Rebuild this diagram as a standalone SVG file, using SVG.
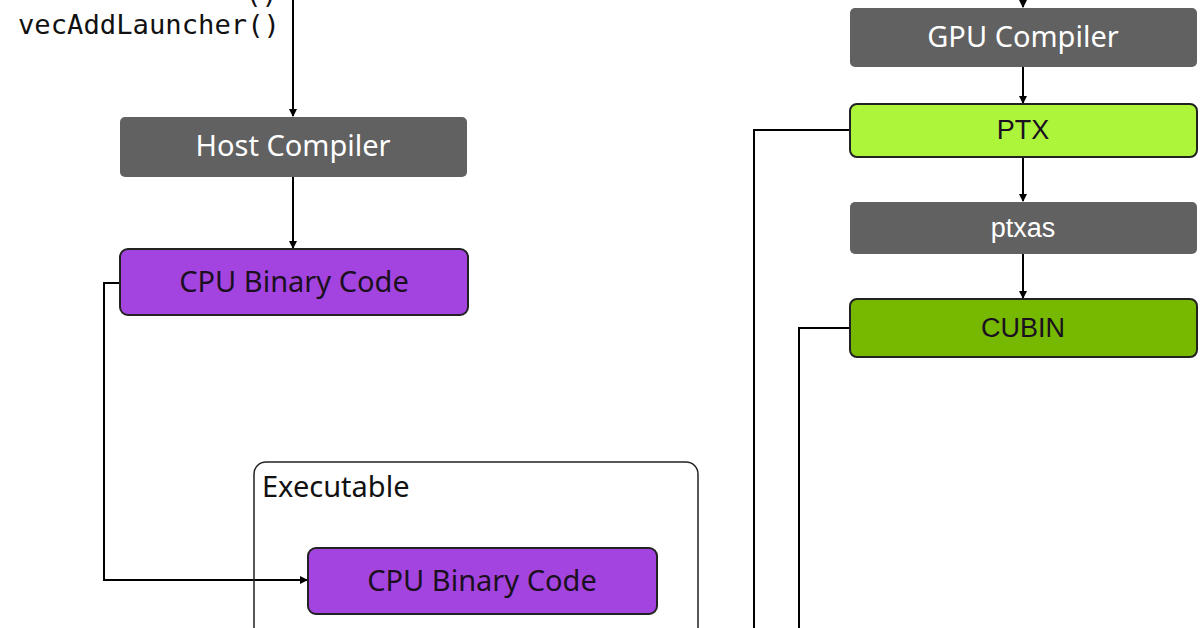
<svg xmlns="http://www.w3.org/2000/svg" width="1200" height="628" viewBox="0 0 1200 628">
<style>
.n{font-family:"Noto Sans","Liberation Sans",sans-serif;font-size:29px;text-anchor:middle}
.a{font-family:"Liberation Sans",Arial,sans-serif;font-size:27px}
.w{fill:#ffffff}
.d{fill:#1a1020}
.gray{fill:#616161}
.cpu{fill:#a444e0;stroke:#222;stroke-width:2}
.ptx{fill:#adf53b;stroke:#222;stroke-width:2}
.cub{fill:#76b900;stroke:#222;stroke-width:2}
.c{fill:none;stroke:#000;stroke-width:2}
.m{font-family:"DejaVu Sans Mono",monospace;font-size:27.2px;fill:#111}
</style>
<defs>
<marker id="a" markerWidth="8" markerHeight="8" refX="7" refY="4" orient="auto" markerUnits="userSpaceOnUse">
<path d="M0,0 L8,4 L0,8 z" fill="#000"/>
</marker>
</defs>
<rect width="1200" height="628" fill="#fff"/>
<text class="m" x="278" y="3" text-anchor="end">()</text>
<text class="m" x="18" y="34">vecAddLauncher()</text>
<g id="connectors">
<path class="c" d="M293,0 V116" marker-end="url(#a)"/>
<path class="c" d="M293,177 V248" marker-end="url(#a)"/>
<path class="c" d="M120,283 H104 V580 H307" marker-end="url(#a)"/>
<path class="c" d="M1023,-2 V7" marker-end="url(#a)"/>
<path class="c" d="M1023,67 V103" marker-end="url(#a)"/>
<path class="c" d="M1023,157 V201" marker-end="url(#a)"/>
<path class="c" d="M1023,254 V298" marker-end="url(#a)"/>
<path class="c" d="M850,130 H754 V630"/>
<path class="c" d="M850,328 H799 V630"/>
</g>
<g id="executable">
<rect x="254" y="462" width="444" height="190" rx="12" fill="none" stroke="#222" stroke-width="1.5"/>
<text x="262" y="497" style="font-family:'Noto Sans','Liberation Sans',sans-serif;font-size:29px;fill:#111">Executable</text>
</g>
<g id="host-compiler"><rect class="gray" x="120" y="117" width="347" height="60" rx="5"/><text class="n w" x="293" y="156">Host Compiler</text></g>
<g id="cpu-binary-1"><rect class="cpu" x="120" y="249" width="348" height="66" rx="8"/><text class="n d" x="294" y="292">CPU Binary Code</text></g>
<g id="cpu-binary-2"><rect class="cpu" x="308" y="548" width="349" height="66" rx="8"/><text class="n d" x="482" y="591">CPU Binary Code</text></g>
<g id="gpu-compiler"><rect class="gray" x="850" y="8" width="347" height="59" rx="5"/><text class="n w" x="1023" y="47">GPU Compiler</text></g>
<g id="ptx"><rect class="ptx" x="850" y="104" width="347" height="53" rx="7"/><text class="n a d" x="1023" y="139">PTX</text></g>
<g id="ptxas"><rect class="gray" x="850" y="202" width="347" height="52" rx="5"/><text class="n a w" x="1023" y="237">ptxas</text></g>
<g id="cubin"><rect class="cub" x="850" y="299" width="347" height="58" rx="7"/><text class="n a d" x="1023" y="337">CUBIN</text></g>
</svg>
